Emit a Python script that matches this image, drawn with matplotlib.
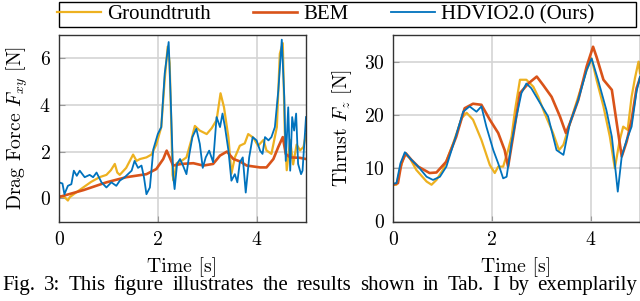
import matplotlib
matplotlib.use("Agg")
import matplotlib.pyplot as plt
from matplotlib.ticker import FixedLocator
from matplotlib.patches import Rectangle

plt.rcParams['mathtext.fontset'] = 'cm'
plt.rcParams['axes.formatter.use_mathtext'] = True

# ---------------- data ----------------
# Left panel: drag force [N]
t_gt_l = [0.0, 0.11, 0.18, 0.22, 0.35, 0.49, 0.65, 0.82, 0.96, 1.05, 1.13, 1.18, 1.23, 1.36, 1.5, 1.57, 1.64,
          1.77, 1.87, 1.97, 2.07, 2.14, 2.2, 2.24, 2.3, 2.32, 2.38, 2.48, 2.58, 2.68, 2.75, 2.85, 2.99,
          3.09, 3.19, 3.27, 3.34, 3.43, 3.49, 3.56, 3.66, 3.76, 3.83, 3.93, 4.03, 4.14, 4.2, 4.3, 4.41,
          4.47, 4.53, 4.57, 4.61, 4.68, 4.74, 4.81, 4.88, 4.95, 5.0]
v_gt_l = [0.1, 0.05, -0.1, 0.05, 0.25, 0.46, 0.7, 0.9, 1.0, 1.2, 1.47, 1.1, 1.0, 1.3, 1.87, 1.6, 1.68,
          1.75, 1.87, 2.3, 3.05, 5.1, 6.5, 5.8, 1.0, 0.75, 1.5, 1.6, 1.75, 2.5, 3.1, 2.9, 2.75,
          3.0, 3.35, 4.5, 3.9, 2.6, 1.05, 1.75, 2.25, 2.35, 2.75, 2.6, 2.25, 2.5, 2.05, 1.9, 3.05,
          6.2, 6.65, 2.9, 1.2, 2.5, 1.45, 2.3, 2.05, 2.2, 2.75]

t_bem_l = [0.0, 0.5, 0.96, 1.36, 1.77, 1.97, 2.11, 2.18, 2.24, 2.31, 2.48, 2.72, 2.92, 3.12, 3.26,
           3.4, 3.53, 3.66, 3.8, 4.07, 4.2, 4.34, 4.44, 4.53, 4.59, 4.68, 4.88, 5.0]
v_bem_l = [0.05, 0.35, 0.68, 0.9, 1.03, 1.25, 1.68, 2.04, 1.75, 1.4, 1.47, 1.5, 1.4, 1.47, 1.83,
           2.0, 1.68, 1.58, 1.4, 1.32, 1.32, 1.68, 2.2, 2.62, 1.9, 1.75, 1.73, 1.68]

t_hd_l = [0.0, 0.07, 0.11, 0.18, 0.25, 0.3, 0.36, 0.42, 0.52, 0.62, 0.69, 0.76, 0.86, 0.96, 1.06,
          1.16, 1.23, 1.33, 1.47, 1.53, 1.6, 1.67, 1.72, 1.77, 1.84, 1.91, 2.0, 2.07, 2.14, 2.22,
          2.26, 2.31, 2.34, 2.39, 2.45, 2.51, 2.58, 2.64, 2.7, 2.78, 2.85, 2.91, 2.97, 3.04, 3.12,
          3.19, 3.26, 3.31, 3.36, 3.43, 3.49, 3.56, 3.61, 3.66, 3.72, 3.78, 3.85, 3.92, 4.0, 4.07,
          4.12, 4.17, 4.24, 4.3, 4.37, 4.44, 4.51, 4.56, 4.59, 4.64, 4.68, 4.72, 4.76, 4.8, 4.84,
          4.9, 4.93, 5.0]
v_hd_l = [0.68, 0.63, 0.17, 0.53, 0.6, 1.18, 0.96, 1.18, 0.9, 1.0, 0.9, 1.1, 0.68, 0.46, 0.68,
          0.53, 0.75, 0.9, 1.18, 1.6, 1.3, 1.4, 0.9, 0.17, 0.46, 2.1, 2.75, 3.05, 5.35, 6.7,
          4.35, 1.0, 0.39, 1.47, 1.68, 1.4, 1.03, 1.9, 2.62, 2.98, 2.33, 1.3, 1.75, 2.04, 1.54,
          3.48, 3.05, 3.63, 3.05, 2.04, 0.75, 1.03, 0.68, 1.54, 1.75, 0.24, 1.75, 2.62, 2.48, 2.04,
          1.9, 2.62, 2.48, 2.62, 3.05, 4.63, 6.8, 4.35, 1.6, 3.9, 1.18, 3.48, 2.9, 3.63, 1.47,
          1.03, 1.18, 3.48]

# Right panel: thrust [N]
t_gt_r = [0.0, 0.07, 0.14, 0.24, 0.34, 0.47, 0.68, 0.78, 0.88, 1.01, 1.22, 1.39, 1.49, 1.62, 1.79,
          1.96, 2.06, 2.13, 2.23, 2.33, 2.4, 2.47, 2.57, 2.7, 2.84, 2.94, 3.07, 3.24, 3.36, 3.45,
          3.58, 3.75, 3.92, 4.02, 4.12, 4.26, 4.39, 4.49, 4.59, 4.66, 4.75, 4.83, 4.9, 4.97, 5.0]
v_gt_r = [6.9, 6.9, 9.7, 12.7, 11.9, 9.7, 7.5, 6.9, 7.8, 9.7, 14.7, 19.4, 20.4, 19.1, 15.3,
          10.6, 9.1, 10.3, 10.3, 13.4, 15.9, 20.9, 26.6, 26.6, 25.3, 23.4, 20.3, 16.6, 13.4, 14.4,
          18.4, 23.4, 28.4, 30.6, 26.6, 21.6, 15.9, 10.0, 15.3, 17.8, 17.2, 23.4, 27.0, 30.0, 27.8]

t_bem_r = [0.0, 0.1, 0.17, 0.26, 0.37, 0.51, 0.74, 0.88, 1.08, 1.28, 1.45, 1.62, 1.79, 1.96, 2.13,
           2.26, 2.33, 2.43, 2.57, 2.74, 2.91, 3.04, 3.21, 3.38, 3.5, 3.58, 3.75, 3.92, 4.05, 4.12,
           4.26, 4.43, 4.53, 4.63, 4.73, 4.83, 4.93, 5.0]
v_bem_r = [6.9, 7.2, 10.9, 12.8, 11.6, 10.3, 9.1, 9.2, 11.25, 15.9, 21.25, 22.1, 21.9, 19.1, 16.6,
           13.4, 10.3, 15.9, 24.1, 25.9, 27.2, 25.6, 23.4, 19.7, 16.6, 18.4, 22.8, 29.1, 32.8, 30.9,
           26.6, 24.7, 18.4, 12.2, 15.0, 19.1, 25.0, 26.9]

t_hd_r = [0.0, 0.07, 0.15, 0.24, 0.37, 0.51, 0.68, 0.81, 0.95, 1.08, 1.25, 1.42, 1.55, 1.69, 1.79,
          1.89, 2.03, 2.13, 2.23, 2.3, 2.4, 2.5, 2.6, 2.7, 2.8, 2.94, 3.04, 3.14, 3.31, 3.45,
          3.58, 3.75, 3.92, 4.02, 4.15, 4.32, 4.43, 4.49, 4.55, 4.63, 4.73, 4.83, 4.93, 5.0]
v_hd_r = [7.1, 7.2, 10.9, 13.0, 11.6, 10.3, 8.4, 7.8, 8.4, 10.3, 15.3, 20.6, 21.6, 20.6, 21.6,
          17.8, 13.4, 10.9, 8.1, 8.4, 14.7, 19.7, 24.1, 25.9, 25.0, 22.8, 21.25, 19.7, 13.4, 12.5,
          18.4, 22.8, 28.4, 30.6, 26.6, 20.9, 15.9, 10.9, 5.6, 12.2, 15.3, 17.8, 24.4, 27.2]

labels = ["Groundtruth", "BEM", "HDVIO2.0 (Ours)"]
xticks = [0, 2, 4]
yticks_l = [0, 2, 4, 6]
yticks_r = [0, 10, 20, 30]
caption = "Fig. 3: This figure illustrates the results shown in Tab. I by exemplarily"

c_gt = "#EDB120"
c_bem = "#D95319"
c_hd = "#0072BD"

W, H = 640, 301
fig = plt.figure(figsize=(6.4, 3.01), dpi=100)
axl = fig.add_axes([59 / W, 1 - 221.5 / H, 247 / W, 186.5 / H])
axr = fig.add_axes([393 / W, 1 - 221.5 / H, 247 / W, 186.5 / H])

FS = 14.2
lbl_font = dict(family='cmr10', fontsize=FS)

for ax, data, yt, ylim, ylabel in [
        (axl, [(t_gt_l, v_gt_l), (t_bem_l, v_bem_l), (t_hd_l, v_hd_l)], yticks_l, (-1, 7),
         r"Drag Force $F_{xy}$ [N]"),
        (axr, [(t_gt_r, v_gt_r), (t_bem_r, v_bem_r), (t_hd_r, v_hd_r)], yticks_r, (0, 35),
         r"Thrust $F_z$ [N]")]:
    lines = []
    for (t, v), c, lw, lab in zip(data, [c_gt, c_bem, c_hd], [1.6, 1.9, 1.3], labels):
        ln, = ax.plot(t, v, color=c, lw=lw, label=lab)
        lines.append(ln)
    ax.set_xlim(0, 5)
    ax.set_ylim(*ylim)
    ax.xaxis.set_major_locator(FixedLocator(xticks))
    ax.yaxis.set_major_locator(FixedLocator(yt))
    ax.grid(True, color="#d4d4d4", lw=1.2)
    ax.set_axisbelow(True)
    ax.tick_params(direction='in', length=4, color='#999999', labelsize=FS)
    ax.tick_params(axis='x', pad=7)
    ax.tick_params(axis='y', pad=6)
    for lab in ax.get_xticklabels() + ax.get_yticklabels():
        lab.set_family('cmr10')
    for s in ax.spines.values():
        s.set_color('#333333')
        s.set_linewidth(1.0)
    ax.set_xlabel("Time [s]", **lbl_font, labelpad=6)
    ax.set_ylabel(ylabel, **lbl_font, labelpad=7)

# legend (pgfplots-like, box wider than its entries)
leg = fig.legend(handles=lines, labels=labels, ncol=3, loc='center left',
                 bbox_to_anchor=(57 / W, 1 - 14.5 / H),
                 prop=dict(family='Liberation Serif', size=15), frameon=False,
                 borderaxespad=0, borderpad=0, handlelength=2.1, handletextpad=0.3,
                 columnspacing=2.05)
fig.add_artist(Rectangle((59 / W, 1 - 27 / H), 577 / W, 25 / H, transform=fig.transFigure,
                         fill=False, edgecolor='black', lw=1.0))

# justified caption line
words = caption.split(" ")
texts = [fig.text(0, 1 - 290 / H, w, family='Liberation Serif', fontsize=15, ha='left',
                  va='baseline') for w in words]
fig.canvas.draw()
r = fig.canvas.get_renderer()
widths = [tx.get_window_extent(r).width for tx in texts]
x0, x1 = 2.0, 637.0
gap = (x1 - x0 - sum(widths)) / (len(words) - 1)
x = x0
for tx, wd in zip(texts, widths):
    tx.set_x(x / W)
    x += wd + gap

fig.savefig("out.png", dpi=100)
